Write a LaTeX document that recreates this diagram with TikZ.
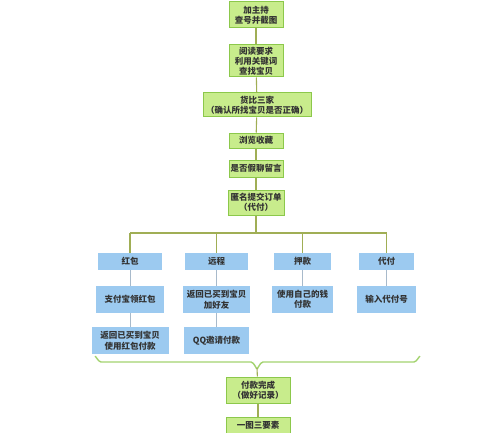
\documentclass[tikz,border=0pt]{standalone}
\usepackage{fontspec}
\setmainfont{Noto Sans CJK SC}
\usetikzlibrary{positioning}
\definecolor{gfill}{HTML}{C8EC8C}
\definecolor{gdraw}{HTML}{8CC84B}
\definecolor{bfill}{HTML}{9CCAF0}
\definecolor{gline}{HTML}{A0AE55}
\definecolor{bline}{HTML}{A8BACB}
\definecolor{txt}{HTML}{333333}
\tikzset{
  x=1pt,y=-1pt,
  gbox/.style={draw=gdraw,fill=gfill,line width=1pt,inner sep=0pt,align=center,
    font=\fontsize{8.5}{10}\selectfont\bfseries,text=txt,minimum width=54pt},
  bbox/.style={fill=bfill,inner sep=0pt,align=center,
    font=\fontsize{8.5}{10.5}\selectfont\bfseries,text=txt},
  gconn/.style={draw=gline,line width=1.1pt},
  bconn/.style={draw=bline,line width=1pt}
}
\begin{document}
\begin{tikzpicture}
\useasboundingbox (0,0) rectangle (500,433);
\clip (0,0) rectangle (500,433);
\fill[white] (0,0) rectangle (500,433);
% main column
\node[gbox,minimum height=26pt] (b1) at (256,15) {加主持\\查号并截图};
\node[gbox,minimum height=32pt] (b2) at (256,61) {阅读要求\\利用关键词\\查找宝贝};
\node[gbox,minimum height=24pt,minimum width=108pt] (b3) at (257,105) {货比三家\\（确认所找宝贝是否正确）};
\node[gbox,minimum height=15pt] (b4) at (256,140.5) {浏览收藏};
\node[gbox,minimum height=17pt] (b5) at (256,168.5) {是否假聊留言};
\node[gbox,minimum height=25pt,minimum width=56pt] (b6) at (256,202.5) {匿名提交订单\\（代付）};
% branch line
\coordinate (br) at (256,233);
\coordinate (bl) at (130,233);
\coordinate (bm1) at (216.5,233);
\coordinate (bm2) at (302.5,233);
\coordinate (brr) at (386.5,233);
% blue row 1
\node[bbox,minimum width=64pt,minimum height=17pt] (r1a) at (130,261.5) {红包};
\node[bbox,minimum width=63pt,minimum height=17pt] (r1b) at (216.5,261.5) {远程};
\node[bbox,minimum width=57pt,minimum height=17pt] (r1c) at (302.5,261.5) {押款};
\node[bbox,minimum width=55pt,minimum height=17pt] (r1d) at (386.5,261.5) {代付};
% blue row 2
\node[bbox,minimum width=68pt,minimum height=27pt] (r2a) at (130,299.5) {支付宝领红包};
\node[bbox,minimum width=67pt,minimum height=27pt] (r2b) at (216.5,299.5) {返回已买到宝贝\\加好友};
\node[bbox,minimum width=61pt,minimum height=27pt] (r2c) at (302.5,299.5) {使用自己的钱\\付款};
\node[bbox,minimum width=59pt,minimum height=27pt] (r2d) at (386.5,299.5) {输入代付号};
% blue row 3
\node[bbox,minimum width=77pt,minimum height=27pt] (r3a) at (130,340.5) {返回已买到宝贝\\使用红包付款};
\node[bbox,minimum width=65pt,minimum height=27pt] (r3b) at (216.5,340.5) {QQ邀请付款};
% bottom
\node[gbox,minimum height=26pt,minimum width=64pt] (b7) at (258,390) {付款完成\\（做好记录）};
\node[gbox,minimum height=26pt,minimum width=64pt] (b8) at (258,430) {一图三要素\\ };
% brace
\coordinate (tip) at (257,368);
% connectors
\draw[gconn] (b1) -- (b2);
\draw[gconn] (b2) -- (b3);
\draw[gconn] (b3) -- (b4);
\draw[gconn] (b4) -- (b5);
\draw[gconn] (b5) -- (b6);
\draw[gconn] (b6) -- (br);
\draw[gconn] (bl) -- (brr);
\draw[gconn] (bl) -- (r1a);
\draw[gconn] (bm1) -- (r1b);
\draw[gconn] (bm2) -- (r1c);
\draw[gconn] (brr) -- (r1d);
\draw[bconn] (r1a) -- (r2a);
\draw[bconn] (r2a) -- (r3a);
\draw[bconn] (r1b) -- (r2b);
\draw[bconn] (r2b) -- (r3b);
\draw[bconn] (r1c) -- (r2c);
\draw[bconn] (r1d) -- (r2d);
\draw[draw=gdraw!80!white,line width=1.4pt,line join=round]
  (95,357) to[out=90,in=180] (101,362) -- (251,362) to[out=0,in=-90] (tip)
  to[out=-90,in=180] (263,362) -- (414,362) to[out=0,in=90] (420,357);
\draw[gconn] (tip) -- (b7);
\draw[gconn] (b7) -- (b8);
\end{tikzpicture}
\end{document}
